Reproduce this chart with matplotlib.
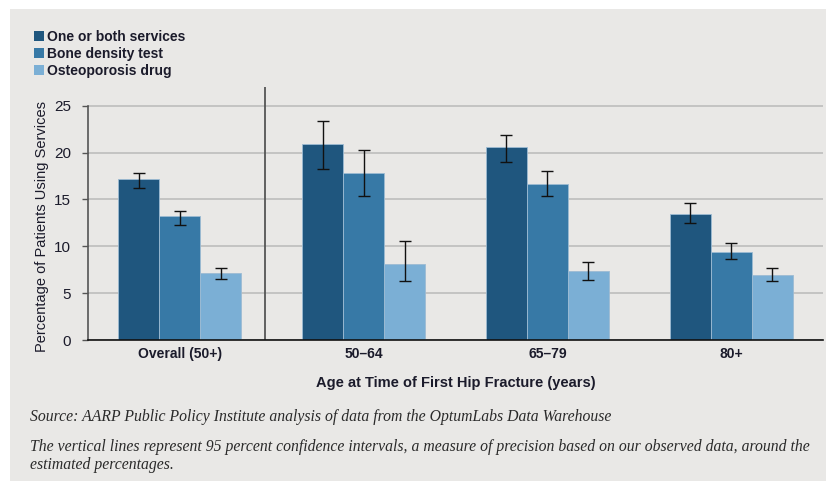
import numpy as np
import matplotlib
matplotlib.use('Agg')
import matplotlib.pyplot as plt
from matplotlib.patches import Rectangle, Patch

plt.rcParams['font.family'] = ['Liberation Sans', 'DejaVu Sans']

groups = ['Overall (50+)', '50–64', '65–79', '80+']
series = ['One or both services', 'Bone density test', 'Osteoporosis drug']

both_pct = [17.2, 20.9, 20.6, 13.5]
both_lo = [16.2, 18.3, 19.0, 12.5]
both_hi = [17.85, 23.4, 21.9, 14.6]

bone_pct = [13.2, 17.8, 16.6, 9.4]
bone_lo = [12.3, 15.4, 15.4, 8.6]
bone_hi = [13.8, 20.3, 18.0, 10.3]

drug_pct = [7.2, 8.1, 7.4, 6.9]
drug_lo = [6.5, 6.3, 6.4, 6.3]
drug_hi = [7.7, 10.6, 8.3, 7.7]

colors = ['#1f567e', '#3779a6', '#7bafd5']
bg = '#e9e8e6'
ink = '#1b1b2b'

fig = plt.figure(figsize=(8.26, 4.83), dpi=100)
fig.patches.append(Rectangle((10 / 826, 2 / 483), 816 / 826, 472 / 483,
                             transform=fig.transFigure, facecolor=bg,
                             edgecolor='none', zorder=-10))

ax = fig.add_axes([88 / 826, 1 - 340 / 483, 735 / 826, 253 / 483])
ax.set_facecolor(bg)

x = np.arange(len(groups))
w = 0.223
data = [(both_pct, both_lo, both_hi), (bone_pct, bone_lo, bone_hi),
        (drug_pct, drug_lo, drug_hi)]
for i, (vals, lo, hi) in enumerate(data):
    pos = x + (i - 1) * w
    vals = np.array(vals)
    yerr = [vals - np.array(lo), np.array(hi) - vals]
    ax.bar(pos, vals, width=w, color=colors[i], edgecolor='#9dbbd3',
           linewidth=0.6, zorder=2, label=series[i])
    ax.errorbar(pos, vals, yerr=yerr, fmt='none', ecolor='#111111',
                elinewidth=1.0, capsize=4, capthick=1.0, zorder=3)

ax.set_xlim(-0.5, 3.5)
ax.set_ylim(0, 27)
ax.set_yticks([0, 5, 10, 15, 20, 25])
ax.yaxis.grid(True, color='#bdbdbd', linewidth=1.2, zorder=0)
ax.set_axisbelow(True)
ax.axvline(0.463, color='#555555', linewidth=1.3, zorder=1)

for s in ['top', 'right']:
    ax.spines[s].set_visible(False)
ax.spines['left'].set_bounds(0, 25)
ax.spines['left'].set_color('#555555')
ax.spines['left'].set_linewidth(1.2)
ax.spines['bottom'].set_color('#111111')
ax.spines['bottom'].set_linewidth(1.2)

ax.tick_params(axis='y', length=4, width=1, color='#555555', labelsize=11,
               labelcolor=ink, pad=8)
ax.tick_params(axis='x', length=0, pad=5)
ax.set_xticks(x)
ax.set_xticklabels(groups, fontsize=10, fontweight='bold', color=ink)

ax.set_ylabel('Percentage of Patients Using Services', fontsize=10.5,
              color=ink)
ax.yaxis.set_label_coords(-0.053, 0.45)
ax.set_xlabel('Age at Time of First Hip Fracture (years)', fontsize=10.5,
              fontweight='bold', color=ink, labelpad=11)

handles = [Patch(facecolor=c, edgecolor='none') for c in colors]
fig.legend(handles, series, loc='upper left',
           bbox_to_anchor=(34 / 826, 1 - 30 / 483), frameon=False,
           handlelength=0.7, handleheight=0.7, handletextpad=0.25,
           labelspacing=0.2, borderpad=0, borderaxespad=0,
           prop={'weight': 'bold', 'size': 10}, labelcolor=ink)

foot = dict(family=['Liberation Serif', 'DejaVu Serif'], style='italic',
            fontsize=11.3, color='#2a2a2a', transform=fig.transFigure)
fig.text(30 / 826, 1 - 417 / 483,
         'Source: AARP Public Policy Institute analysis of data from the OptumLabs Data Warehouse',
         va='center', **foot)
fig.text(30 / 826, 1 - 447 / 483,
         'The vertical lines represent 95 percent confidence intervals, a measure of precision based on our observed data, around the',
         va='center', **foot)
fig.text(30 / 826, 1 - 465 / 483, 'estimated percentages.', va='center', **foot)

fig.savefig('out.png', dpi=100, facecolor='white')
